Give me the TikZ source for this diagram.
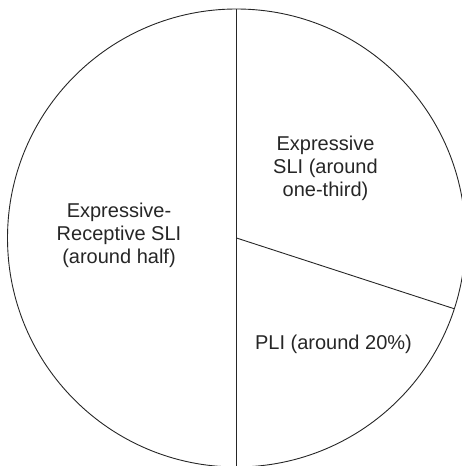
\documentclass[tikz,border=0pt]{standalone}
\usepackage{fontspec}
\setmainfont{Liberation Sans}
\usetikzlibrary{calc}
\begin{document}
\begin{tikzpicture}[x=1pt,y=1pt,
  pieline/.style={line width=0.9pt, draw=black!85},
  slicelabel/.style={align=center, text=black!85, font=\fontsize{20}{23}\selectfont}]
  \useasboundingbox (0,0) rectangle (462,466);
  \clip (0,0) rectangle (462,466);
  % pie outline and slice boundaries
  \coordinate (c) at (236.5,228);
  \coordinate (top) at ($(c)+(90:229)$);
  \coordinate (bottom) at ($(c)+(-90:229)$);
  \coordinate (rim) at ($(c)+(-18:229)$);
  \draw[pieline] (c) circle[radius=229];
  \draw[pieline] (top) -- (bottom);
  \draw[pieline] (c) -- (rim);
  % slice labels
  \node[slicelabel] (er) at (119,231) {Expressive-\\Receptive SLI\\(around half)};
  \node[slicelabel] (ex) at (325.5,297.5) {Expressive\\SLI (around\\one-third)};
  \node[slicelabel, anchor=base] (pli) at (333.5,116) {PLI (around 20\%)};
\end{tikzpicture}
\end{document}
